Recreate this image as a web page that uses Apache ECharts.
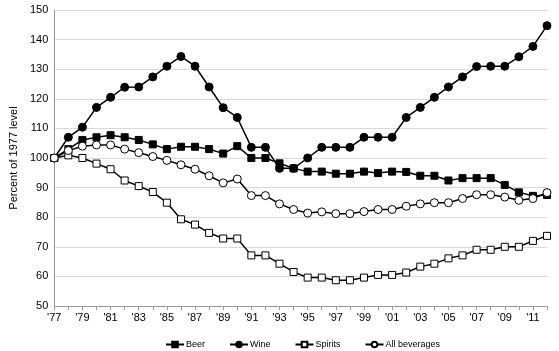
<!DOCTYPE html>
<html>
<head>
<meta charset="utf-8">
<script src="https://cdn.jsdelivr.net/npm/echarts@6/dist/echarts.min.js"></script>
<style>
  html, body { margin: 0; padding: 0; background: #fff; }
  #main { width: 559px; height: 351px; }
</style>
</head>
<body>
<div id="main"></div>
<script>
  // years 1977 - 2012
  var years = [];
  for (var y = 1977; y <= 2012; y++) { years.push("'" + String(y).slice(2)); }

  var beer = [100, 103, 106.1, 107, 107.7, 107, 106.1, 104.6, 103, 103.8, 103.8, 103, 101.5, 104,
    100, 100, 98.2, 96.5, 95.4, 95.4, 94.7, 94.7, 95.4, 94.9, 95.4, 95.3, 94, 94, 92.4, 93.2,
    93.2, 93.2, 90.9, 88.4, 87.2, 87.5];
  var wine = [100, 107, 110.4, 117.1, 120.5, 123.9, 124, 127.4, 131, 134.3, 131, 124, 117, 113.7,
    103.6, 103.6, 96.5, 96.5, 100, 103.6, 103.6, 103.6, 107, 107, 107, 113.7, 117.1, 120.5, 124,
    127.4, 130.9, 131, 131, 134.2, 137.7, 144.7];
  var spirits = [100, 100.9, 100, 98.1, 96.2, 92.4, 90.5, 88.5, 84.9, 79.3, 77.5, 74.7, 72.8, 72.8,
    67.1, 67.1, 64.3, 61.5, 59.6, 59.6, 58.7, 58.7, 59.6, 60.5, 60.5, 61.3, 63.3, 64.3, 66.1, 67.1,
    69, 69, 70, 70, 72, 73.7];
  var allBev = [100, 102.5, 104, 104.4, 104.4, 103, 101.8, 100.5, 99.2, 97.7, 96.2, 94, 91.6, 92.9,
    87.3, 87.3, 84.5, 82.6, 81.4, 81.8, 81.2, 81.2, 81.9, 82.6, 82.6, 83.7, 84.5, 84.9, 84.9, 86.3,
    87.6, 87.6, 86.8, 85.7, 86.3, 88.3];

  var chartDom = document.getElementById('main');
  var myChart = echarts.init(chartDom);

  function mkSeries(name, data, symbol, filled) {
    return {
      name: name,
      type: 'line',
      data: data,
      symbol: symbol,
      symbolSize: symbol === 'rect' ? 7 : 8,
      showAllSymbol: true,
      lineStyle: { color: '#000', width: 1.5 },
      itemStyle: { color: filled ? '#000' : '#fff', borderColor: '#000', borderWidth: 1 },
      emphasis: { disabled: true }
    };
  }

  var option = {
    animation: false,
    textStyle: { fontFamily: 'Liberation Sans, Arial, sans-serif' },
    grid: { left: 48, right: 12, top: 10, bottom: 45, containLabel: false },
    legend: {
      top: 335,
      left: 160,
      itemWidth: 18,
      itemHeight: 7,
      itemGap: 24,
      textStyle: { fontSize: 9, color: '#000', padding: [0, 0, 0, -3] },
      data: ['Beer', 'Wine', 'Spirits', 'All beverages']
    },
    xAxis: {
      type: 'category',
      boundaryGap: false,
      data: years,
      axisLine: { lineStyle: { color: '#999' } },
      axisTick: { show: true, interval: 0, length: 4, lineStyle: { color: '#999' } },
      axisLabel: { interval: 1, color: '#000', fontSize: 11, margin: 6 }
    },
    yAxis: {
      type: 'value',
      min: 50,
      max: 150,
      interval: 10,
      name: 'Percent of 1977 level',
      nameLocation: 'middle',
      nameGap: 33,
      nameTextStyle: { color: '#000', fontSize: 11 },
      axisLine: { show: true, lineStyle: { color: '#999' } },
      axisTick: { show: false },
      axisLabel: { color: '#000', fontSize: 11, margin: 6 },
      splitLine: { lineStyle: { color: '#d9d9d9', width: 1 } }
    },
    series: [
      mkSeries('Beer', beer, 'rect', true),
      mkSeries('Wine', wine, 'circle', true),
      mkSeries('Spirits', spirits, 'rect', false),
      mkSeries('All beverages', allBev, 'circle', false)
    ]
  };
  option && myChart.setOption(option);
</script>
</body>
</html>
